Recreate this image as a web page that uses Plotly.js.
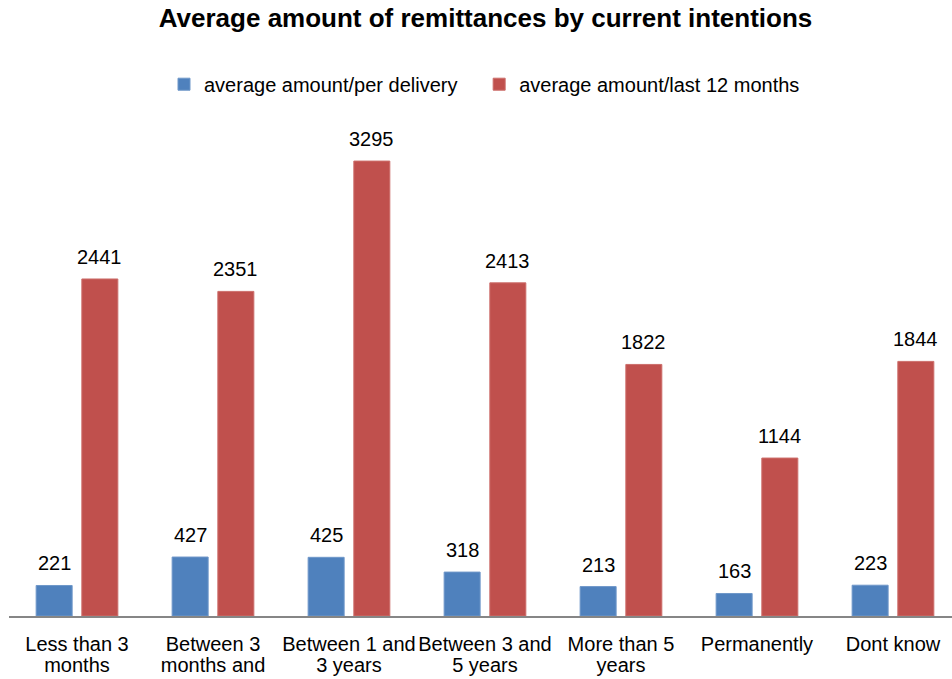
<!DOCTYPE html>
<html>
<head>
<meta charset="utf-8">
<script src="https://cdn.plot.ly/plotly-3.0.1.min.js"></script>
<style>
html,body{margin:0;padding:0;background:#fff;}
#chart{width:952px;height:679px;}
</style>
</head>
<body>
<div id="chart"></div>
<script>
const categories = [
  "Less than 3<br>months",
  "Between 3<br>months and",
  "Between 1 and<br>3 years",
  "Between 3 and<br>5 years",
  "More than 5<br>years",
  "Permanently",
  "Dont know"
];
const perDelivery = [221, 427, 425, 318, 213, 163, 223];
const last12Months = [2441, 2351, 3295, 2413, 1822, 1144, 1844];
const seriesNames = ["average amount/per delivery", "average amount/last 12 months"];

const font = "Arial, 'Liberation Sans', sans-serif";
const blue = "#4F81BD", red = "#C0504D";

// tick text: larger glyphs inside a smaller base font to get tighter line spacing
const tickText = categories.map(c => c.split("<br>").map(l => '<span style="font-size:20px">' + l + '</span>').join("<br>"));

const traces = [
  {type: "bar", x: categories, y: perDelivery, name: seriesNames[0] + "\u00a0\u00a0\u00a0",
   marker: {color: blue, line: {color: "#6f97c9", width: 1}}, hoverinfo: "y"},
  {type: "bar", x: categories, y: last12Months, name: seriesNames[1],
   marker: {color: red, line: {color: "#cc6e6b", width: 1}}, hoverinfo: "y"}
];

const annotations = [];
const shift = 22.85;
categories.forEach((c, i) => {
  annotations.push({x: c, y: perDelivery[i], xref: "x", yref: "y", text: String(perDelivery[i]),
    showarrow: false, xshift: -shift, yshift: 22, yanchor: "middle",
    font: {family: font, size: 20, color: "#000"}});
  annotations.push({x: c, y: last12Months[i], xref: "x", yref: "y", text: String(last12Months[i]),
    showarrow: false, xshift: shift, yshift: 22, yanchor: "middle",
    font: {family: font, size: 20, color: "#000"}});
});

const layout = {
  width: 952, height: 679,
  margin: {l: 9, r: 0, t: 130, b: 63},
  paper_bgcolor: "#fff", plot_bgcolor: "#fff",
  font: {family: font, size: 20, color: "#000"},
  title: {text: "<b>Average amount of remittances by current intentions</b>",
    font: {family: font, size: 26, color: "#000"},
    x: 0.51, xref: "container", xanchor: "center", y: 0.973, yref: "container", yanchor: "middle"},
  barmode: "group", bargap: 0.328, bargroupgap: 0.212,
  showlegend: true,
  legend: {orientation: "h", x: 164/952, xanchor: "left", xref: "container", y: 0.876, yref: "container", yanchor: "middle",
    font: {family: font, size: 20, color: "#000"}, itemwidth: 30, traceorder: "normal"},
  xaxis: {type: "category", range: [-0.5, 6.434], showline: true, linecolor: "#868686", linewidth: 2,
    ticks: "", showgrid: false, zeroline: false, tickfont: {family: font, size: 16, color: "#000"},
    tickmode: "array", tickvals: categories, ticktext: tickText,
    ticklabelstandoff: 14, automargin: false, fixedrange: true},
  yaxis: {range: [0, 3520], visible: false, showgrid: false, zeroline: false, fixedrange: true},
  annotations: annotations
};

Plotly.newPlot("chart", traces, layout, {displayModeBar: false, staticPlot: true});
</script>
</body>
</html>
